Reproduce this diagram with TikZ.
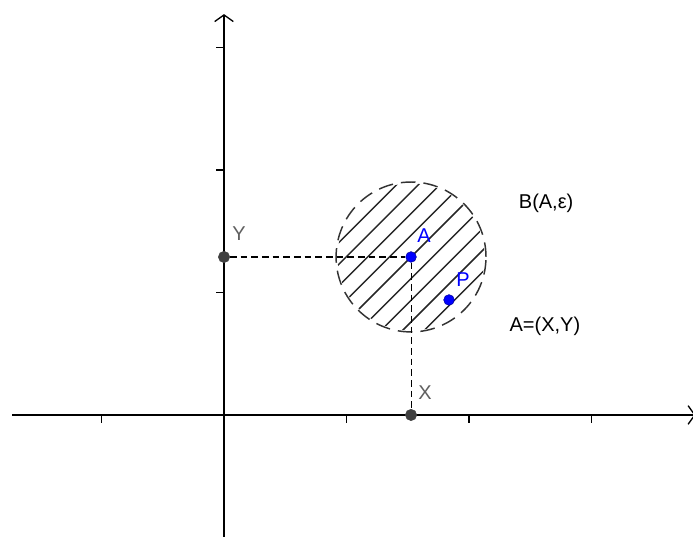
\documentclass[tikz,border=0pt]{standalone}
\usepackage{fontspec}
\setmainfont{Liberation Sans}
\usetikzlibrary{arrows.meta}
\definecolor{grigio}{RGB}{64,64,64}
\definecolor{grigiochiaro}{RGB}{96,96,96}
\definecolor{blu}{RGB}{0,0,255}
\begin{document}
\begin{tikzpicture}[x=91.875pt,y=91.875pt,
			asse/.style={line width=1.1pt, black, -{Straight Barb[length=5pt,width=14pt,line width=1pt]}},
			tacca/.style={line width=1.1pt, black},
			guida/.style={line width=0.8pt, black, dash pattern=on 5pt off 3pt},
			bordo/.style={line width=1.1pt, black!80, dash pattern=on 11pt off 6pt},
			tratto/.style={line width=1.1pt, black!85},
			punto/.style={circle, fill=grigio, draw=grigio, inner sep=0pt, minimum size=8.5pt},
			puntoblu/.style={circle, fill=blu, draw=blu!60!black, inner sep=0pt, minimum size=8pt},
			etic/.style={font=\fontsize{15}{18}\selectfont, inner sep=0pt},
			]
			\useasboundingbox (-1.829,-1.029) rectangle (3.829,3.388);
			\def\xA{1.527}
			\def\yA{1.290}
			\def\xP{1.837}
			\def\yP{0.939}
			\def\r{0.612}
			
			%% ── assi e tacche ──────────────────────────────────────
			\draw[asse](-1.73,0)--(3.85,0);
			\draw[asse](0,-0.996)--(0,3.273);
			\foreach \x in {-1,1,2,3}
			\draw[tacca](\x,0)--++(0,-0.065);
			\foreach \y in {1,2,3}
			\draw[tacca](0,\y)--++(-0.065,0);
			
			%% ── palla B(A,eps) tratteggiata ────────────────────────
			\begin{scope}
				\clip(\xA,\yA)circle(0.6);
				\foreach \k in {-5,...,5}
				\draw[tratto](\xA+\k*0.0884-0.8,\yA-\k*0.0884-0.8)--++(1.6,1.6);
			\end{scope}
			\draw[bordo](\xA,\yA)circle(\r);
			
			%% ── punti e proiezioni ─────────────────────────────────
			\node[punto](Y)at(0,\yA){};
			\node[punto](X)at(\xA,0){};
			\node[puntoblu](A)at(\xA,\yA){};
			\node[puntoblu](P)at(\xP,\yP){};
			\draw[guida](Y)--(A);
			\draw[guida](A)--(X);
			
			%% ── etichette ──────────────────────────────────────────
			\node[etic,text=grigiochiaro](Ylab)at(0.122,\yA+0.188){Y};
			\node[etic,text=grigiochiaro](Xlab)at(\xA+0.114,0.18){X};
			\node[etic,text=blu](Alab)at(\xA+0.106,\yA+0.171){A};
			\node[etic,text=blu](Plab)at(\xP+0.114,\yP+0.163){P};
			\node[etic](Bpalla)at(2.63,1.73){B(A,ε)};
			\node[etic](Acoord)at(2.62,0.72){A=(X,Y)};
			
	\end{tikzpicture}
\end{document}
